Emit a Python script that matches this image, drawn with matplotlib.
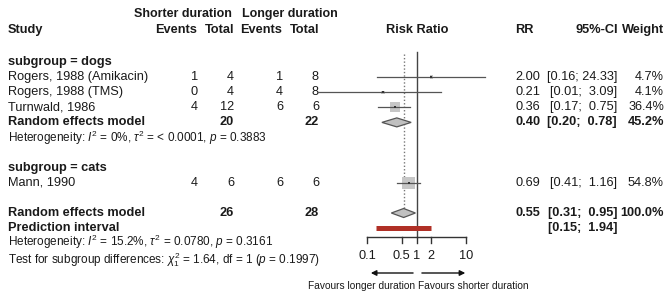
import matplotlib
matplotlib.use("Agg")
import matplotlib.pyplot as plt
import numpy as np

plt.rcParams['font.family'] = ['Liberation Sans', 'DejaVu Sans']
plt.rcParams['mathtext.fontset'] = 'custom'
plt.rcParams['mathtext.rm'] = 'Liberation Sans'
plt.rcParams['mathtext.it'] = 'Liberation Sans:italic'

# ---------------- data ----------------
studies = ["Rogers, 1988 (Amikacin)", "Rogers, 1988 (TMS)", "Turnwald, 1986", "Mann, 1990"]
ev_short = [1, 0, 4, 4]
tot_short = [4, 4, 12, 6]
ev_long = [1, 4, 6, 6]
tot_long = [8, 8, 6, 6]
rr = [2.00, 0.21, 0.36, 0.69]
ci_lo = [0.16, 0.01, 0.17, 0.41]
ci_hi = [24.33, 3.09, 0.75, 1.16]
weights = [4.7, 4.1, 36.4, 54.8]
study_rows = [1, 2, 3, 8]

sub_names = ["subgroup = dogs", "subgroup = cats"]
sub_rows = [0, 7]
dogs_re = dict(rr=0.40, lo=0.20, hi=0.78, n_short=20, n_long=22, w=45.2, row=4)
dogs_het = r"Heterogeneity: $I^2$ = 0%, $\tau^2$ = < 0.0001, $p$ = 0.3883"
overall_re = dict(rr=0.55, lo=0.31, hi=0.95, n_short=26, n_long=28, w=100.0, row=10)
pred_int = dict(lo=0.15, hi=1.94, row=11)
overall_het = r"Heterogeneity: $I^2$ = 15.2%, $\tau^2$ = 0.0780, $p$ = 0.3161"
subgroup_test = r"Test for subgroup differences: $\chi^2_1$ = 1.64, df = 1 ($p$ = 0.1997)"

xticks = [0.1, 0.5, 1, 2, 10]
xtick_labels = ["0.1", "0.5", "1", "2", "10"]

# ---------------- layout ----------------
W, H = 669, 302
fig = plt.figure(figsize=(W / 100, H / 100), dpi=100)
ax = fig.add_axes([0, 0, 1, 1])
ax.set_xlim(0, W)
ax.set_ylim(H, 0)
ax.axis('off')

y0, dy = 62, 15.1
def ry(r):
    return y0 + r * dy

fs = 9.2
fs_small = 8.5
fs_tiny = 7.3
txt = '#1a1a1a'

def T(x, y, s, ha='left', bold=False, size=fs):
    ax.text(x, y, s, ha=ha, va='center', fontsize=size,
            fontweight='bold' if bold else 'normal', color=txt)

def ci_str(lo, hi):
    return "[%.2f; %5.2f]" % (lo, hi)

# headers
T(183, 14, "Shorter duration", 'center', True, 9.0)
T(290, 14, "Longer duration", 'center', True, 9.0)
T(8, 30, "Study", 'left', True)
T(197, 30, "Events", 'right', True)
T(234, 30, "Total", 'right', True)
T(282, 30, "Events", 'right', True)
T(319, 30, "Total", 'right', True)
T(417, 30, "Risk Ratio", 'center', True)
T(515, 30, "RR", 'left', True)
T(618, 30, "95%-CI", 'right', True)
T(664, 30, "Weight", 'right', True)

for name, r in zip(sub_names, sub_rows):
    T(8, ry(r), name, 'left', True)

for i, s in enumerate(studies):
    y = ry(study_rows[i])
    T(8, y, s)
    T(198, y, str(ev_short[i]), 'right')
    T(234, y, str(tot_short[i]), 'right')
    T(283, y, str(ev_long[i]), 'right')
    T(319, y, str(tot_long[i]), 'right')
    T(515, y, "%.2f" % rr[i])
    T(617, y, ci_str(ci_lo[i], ci_hi[i]), 'right')
    T(664, y, "%.1f%%" % weights[i], 'right')

for m in (dogs_re, overall_re):
    y = ry(m['row'])
    T(8, y, "Random effects model", 'left', True)
    T(234, y, str(m['n_short']), 'right', True)
    T(319, y, str(m['n_long']), 'right', True)
    T(515, y, "%.2f" % m['rr'], 'left', True)
    T(617, y, ci_str(m['lo'], m['hi']), 'right', True)
    T(664, y, "%.1f%%" % m['w'], 'right', True)

y = ry(pred_int['row'])
T(8, y, "Prediction interval", 'left', True)
T(617, y, ci_str(pred_int['lo'], pred_int['hi']), 'right', True)

T(8, ry(5), dogs_het, size=fs_small)
T(8, ry(12) - 1.0, overall_het, size=fs_small)
T(8, ry(13) + 1.0, subgroup_test, size=fs_small)

# ---------------- forest panel ----------------
fx0, fx1 = 367, 466
fa = fig.add_axes([fx0 / W, 0, (fx1 - fx0) / W, 1])
fa.set_xscale('log')
fa.set_xlim(0.1, 10)
fa.set_ylim(H, 0)
fa.axis('off')

axis_y = 237
fa.plot([1, 1], [52, axis_y], color='#444444', lw=1.0, clip_on=False)
fa.plot([overall_re['rr']] * 2, [54, ry(overall_re['row']) - 4], color='#777777', lw=1.0,
        ls=(0, (1, 1.5)), clip_on=False)

for i in range(len(studies)):
    y = ry(study_rows[i])
    side_px = 10 * np.sqrt(weights[i] / 36.4)
    side_pt = side_px * 0.72
    fa.scatter([rr[i]], [y], marker='s', s=side_pt ** 2, color='#c6c6c6', edgecolors='none',
               zorder=2, clip_on=False)
    fa.plot([ci_lo[i], ci_hi[i]], [y, y], color='#555555', lw=0.9, zorder=3, clip_on=False)
    fa.scatter([rr[i]], [y], marker='s', s=2.0, color='#333333', edgecolors='none', zorder=4,
               clip_on=False)

for m in (dogs_re, overall_re):
    y = ry(m['row'])
    h = 4.5
    fa.fill([m['lo'], m['rr'], m['hi'], m['rr']], [y, y - h, y, y + h],
            facecolor='#c0c0c0', edgecolor='#555555', lw=0.9, zorder=3, clip_on=False)

y = ry(pred_int['row'])
fa.plot([pred_int['lo'], pred_int['hi']], [y, y], color='#b03026', lw=3.6,
        solid_capstyle='butt', zorder=3, clip_on=False)

fa.plot([xticks[0], xticks[-1]], [axis_y, axis_y], color='#333333', lw=1.0, clip_on=False)
for t, lab in zip(xticks, xtick_labels):
    fa.plot([t, t], [axis_y, axis_y + 6], color='#333333', lw=1.0, clip_on=False)
    fa.text(t, axis_y + 19, lab, ha='center', va='center', fontsize=fs, color=txt)

fa.annotate("", xy=(0.105, 273), xytext=(0.97, 273),
            arrowprops=dict(arrowstyle='-|>', color='#111111', lw=1.0, mutation_scale=8),
            annotation_clip=False)
fa.annotate("", xy=(11.0, 273), xytext=(1.13, 273),
            arrowprops=dict(arrowstyle='-|>', color='#111111', lw=1.0, mutation_scale=8),
            annotation_clip=False)
fa.text(0.96, 286, "Favours longer duration", ha='right', va='center', fontsize=fs_tiny, color=txt)
fa.text(1.05, 286, "Favours shorter duration", ha='left', va='center', fontsize=fs_tiny, color=txt)

fig.savefig("out.png", dpi=100, facecolor='white')
